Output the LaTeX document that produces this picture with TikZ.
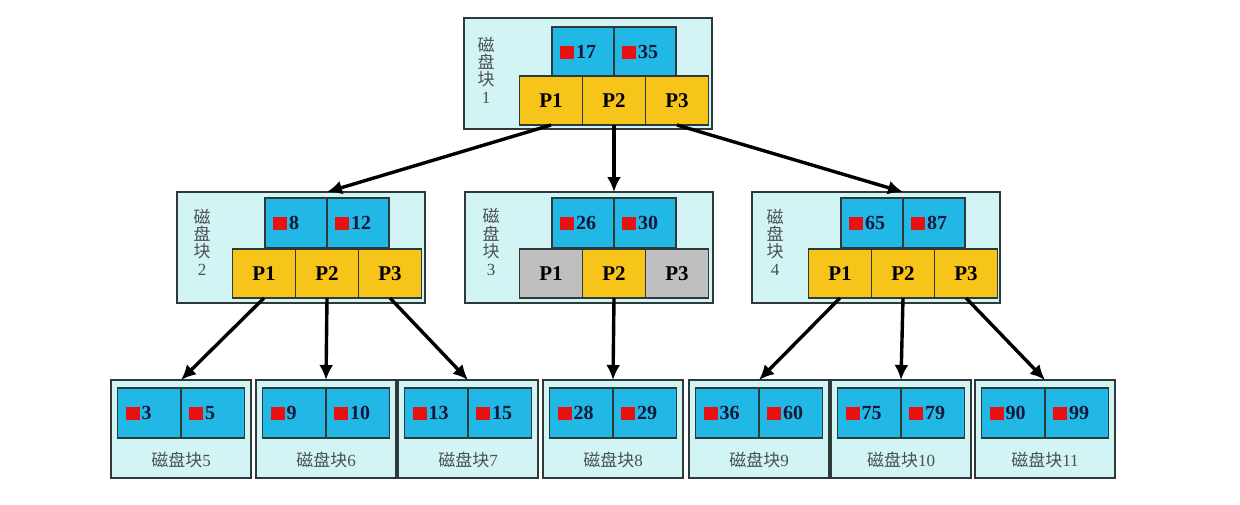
\documentclass[tikz,border=0pt]{standalone}
\usepackage{fontspec}
\setmainfont{Liberation Serif}
\newfontfamily\cjk{Noto Sans CJK SC}
\usepackage{xcolor}
\usetikzlibrary{arrows.meta, positioning, calc}

\definecolor{boxbg}{HTML}{D2F4F4}
\definecolor{boxline}{HTML}{2E3A3A}
\definecolor{keyblue}{HTML}{22B8E6}
\definecolor{pyellow}{HTML}{F7C51A}
\definecolor{pgray}{HTML}{BFBFBF}
\definecolor{keyred}{HTML}{E81010}
\definecolor{keytext}{HTML}{14163A}
\definecolor{labelgray}{HTML}{4A5050}

\newcommand{\rsq}{\textcolor{keyred}{\rule[-0.5pt]{7pt}{6.5pt}}\hspace{1pt}}

\begin{document}
\begin{tikzpicture}[
x=0.5pt, y=-0.5pt,
blockbox/.style={draw=boxline, fill=boxbg, line width=0.7pt, minimum width=124pt, minimum height=55.5pt, anchor=north west, inner sep=0pt, outer sep=0pt},
leafbox/.style={draw=boxline, fill=boxbg, line width=0.7pt, minimum width=70pt, minimum height=49pt, anchor=north, inner sep=0pt, outer sep=0pt},
keycell/.style={draw=boxline, fill=keyblue, line width=0.7pt, minimum width=31pt, minimum height=25pt, text width=23pt, align=left, inner xsep=4pt, inner ysep=0pt, outer sep=0pt, text=keytext, font=\bfseries\fontsize{10}{10}\selectfont},
leafkey/.style={keycell, text width=23.75pt},
pcell/.style={draw=boxline, fill=pyellow, line width=0.7pt, minimum width=31.5pt, minimum height=24.5pt, inner sep=0pt, outer sep=0pt, font=\bfseries\fontsize{10.5}{10.5}\selectfont},
vlabel/.style={align=center, inner sep=0pt, text=labelgray, font=\cjk\fontsize{8.5}{8.7}\selectfont},
leaflabel/.style={inner sep=0pt, text=labelgray, font=\cjk\fontsize{8.5}{8.5}\selectfont},
arr/.style={-{Latex[length=7.5pt,width=7pt]}, line width=1.7pt}
]
\useasboundingbox (0,0) rectangle (1240,504);

% Root block
\node[blockbox] (b1) at (464,18) {};
\node[vlabel] (t1) at (486,70) {磁\\盘\\块\\{\rmfamily 1}};
\node[keycell, anchor=north east] (k1a) at (614,27) {\rsq 17};
\node[keycell, right=0pt of k1a] (k1b) {\rsq 35};
\node[pcell, anchor=north] (p1b) at (614,76) {P2};
\node[pcell, left=0pt of p1b] (p1a) {P1};
\node[pcell, right=0pt of p1b] (p1c) {P3};

% Second level
\node[blockbox] (b2) at (177,192) {};
\node[vlabel] (t2) at (202,242) {磁\\盘\\块\\{\rmfamily 2}};
\node[keycell, anchor=north east] (k2a) at (327,198) {\rsq 8};
\node[keycell, right=0pt of k2a] (k2b) {\rsq 12};
\node[pcell, anchor=north] (p2b) at (327,249) {P2};
\node[pcell, left=0pt of p2b] (p2a) {P1};
\node[pcell, right=0pt of p2b] (p2c) {P3};

\node[blockbox] (b3) at (465,192) {};
\node[vlabel] (t3) at (491,242) {磁\\盘\\块\\{\rmfamily 3}};
\node[keycell, anchor=north east] (k3a) at (614,198) {\rsq 26};
\node[keycell, right=0pt of k3a] (k3b) {\rsq 30};
\node[pcell, anchor=north] (p3b) at (614,249) {P2};
\node[pcell, left=0pt of p3b, fill=pgray] (p3a) {P1};
\node[pcell, right=0pt of p3b, fill=pgray] (p3c) {P3};

\node[blockbox] (b4) at (752,192) {};
\node[vlabel] (t4) at (775,242) {磁\\盘\\块\\{\rmfamily 4}};
\node[keycell, anchor=north east] (k4a) at (903,198) {\rsq 65};
\node[keycell, right=0pt of k4a] (k4b) {\rsq 87};
\node[pcell, anchor=north] (p4b) at (903,249) {P2};
\node[pcell, left=0pt of p4b] (p4a) {P1};
\node[pcell, right=0pt of p4b] (p4c) {P3};

% Leaf blocks
\node[leafbox] (l5) at (181,380) {};
\node[leafkey, anchor=north east] (l5a) at (181,388) {\rsq 3};
\node[leafkey, right=0pt of l5a] (l5b) {\rsq 5};
\node[leaflabel] (t5) at (181,460) {磁盘块{\rmfamily 5}};

\node[leafbox] (l6) at (326,380) {};
\node[leafkey, anchor=north east] (l6a) at (326,388) {\rsq 9};
\node[leafkey, right=0pt of l6a] (l6b) {\rsq 10};
\node[leaflabel] (t6) at (326,460) {磁盘块{\rmfamily 6}};

\node[leafbox] (l7) at (468,380) {};
\node[leafkey, anchor=north east] (l7a) at (468,388) {\rsq 13};
\node[leafkey, right=0pt of l7a] (l7b) {\rsq 15};
\node[leaflabel] (t7) at (468,460) {磁盘块{\rmfamily 7}};

\node[leafbox] (l8) at (613,380) {};
\node[leafkey, anchor=north east] (l8a) at (613,388) {\rsq 28};
\node[leafkey, right=0pt of l8a] (l8b) {\rsq 29};
\node[leaflabel] (t8) at (613,460) {磁盘块{\rmfamily 8}};

\node[leafbox] (l9) at (759,380) {};
\node[leafkey, anchor=north east] (l9a) at (759,388) {\rsq 36};
\node[leafkey, right=0pt of l9a] (l9b) {\rsq 60};
\node[leaflabel] (t9) at (759,460) {磁盘块{\rmfamily 9}};

\node[leafbox] (l10) at (901,380) {};
\node[leafkey, anchor=north east] (l10a) at (901,388) {\rsq 75};
\node[leafkey, right=0pt of l10a] (l10b) {\rsq 79};
\node[leaflabel] (t10) at (901,460) {磁盘块{\rmfamily 10}};

\node[leafbox] (l11) at (1045,380) {};
\node[leafkey, anchor=north east] (l11a) at (1045,388) {\rsq 90};
\node[leafkey, right=0pt of l11a] (l11b) {\rsq 99};
\node[leaflabel] (t11) at (1045,460) {磁盘块{\rmfamily 11}};

% Pointers
\draw[arr] (p1a.south) -- (b2.north -| k2a.east);
\draw[arr] (p1b.south) -- (b3.north -| k3a.east);
\draw[arr] (p1c.south) -- (b4.north -| k4a.east);
\draw[arr] (p2a.south) -- (l5.north);
\draw[arr] (p2b.south) -- (l6.north);
\draw[arr] (p2c.south) -- (l7.north);
\draw[arr] (p3b.south) -- (l8.north);
\draw[arr] (p4a.south) -- (l9.north);
\draw[arr] (p4b.south) -- (l10.north);
\draw[arr] (p4c.south) -- (l11.north);
\end{tikzpicture}
\end{document}
